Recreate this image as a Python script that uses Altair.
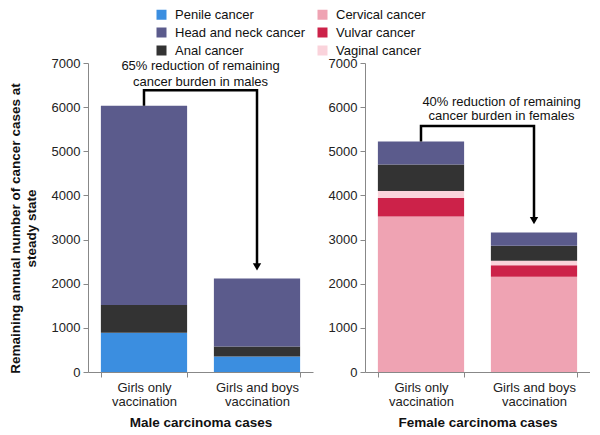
import altair as alt
import pandas as pd

groups = ["Girls only vaccination", "Girls and boys vaccination"]

male_types = ["Penile cancer", "Anal cancer", "Head and neck cancer"]
male_girls_only = [890, 630, 4510]
male_girls_boys = [350, 230, 1540]

female_types = ["Cervical cancer", "Vulvar cancer", "Vaginal cancer", "Anal cancer", "Head and neck cancer"]
female_girls_only = [3520, 420, 160, 600, 520]
female_girls_boys = [2160, 260, 100, 340, 300]

legend_order = ["Penile cancer", "Head and neck cancer", "Anal cancer",
                "Cervical cancer", "Vulvar cancer", "Vaginal cancer"]
legend_colors = ["#3b8ee0", "#5b5b8c", "#333333", "#efa3b3", "#cc2249", "#fad3db"]

panel_titles = ["Male carcinoma cases", "Female carcinoma cases"]
notes = ["65% reduction of remaining\ncancer burden in males",
         "40% reduction of remaining\ncancer burden in females"]
bracket_tops = [6380, 5570]
arrow_tips = [2270, 3320]
note_y = [6940, 6120]
note_lh = [16, 14]
note_dx = [0, 24]

W, H = 225, 309
FONT = "Liberation Sans"


def panel(types, go, gb, idx, show_title):
    rows = []
    for g, vals in zip(groups, [go, gb]):
        for k, (t, v) in enumerate(zip(types, vals)):
            rows.append({"group": g, "cancer": t, "value": v, "ord": k})
    df = pd.DataFrame(rows)
    tot_go = sum(go)
    top = bracket_tops[idx]
    tip = arrow_tips[idx]
    line_df = pd.DataFrame({
        "group": [groups[0], groups[0], groups[1], groups[1]],
        "y": [tot_go, top, top, tip + 150],
        "o": [0, 1, 2, 3],
    })
    arrow_df = pd.DataFrame({"group": [groups[1]], "y": [tip + 110]})
    note_df = pd.DataFrame({"t": [notes[idx]], "y": [note_y[idx]]})

    xscale = alt.Scale(paddingInner=0.237, paddingOuter=0.114)
    xaxis = alt.Axis(title=panel_titles[idx], labelAngle=0,
                     labelExpr="datum.label ? [replace(datum.label, ' vaccination', ''), 'vaccination'] : ''",
                     tickBand="extent", tickSize=5, labelPadding=4,
                     labelLineHeight=14, titlePadding=7)
    xenc = alt.X("group:N", sort=groups, scale=xscale, axis=xaxis)
    yscale = alt.Scale(domain=[0, 7000])
    yaxis_kw = dict(values=[0, 1000, 2000, 3000, 4000, 5000, 6000, 7000], grid=False,
                    format="d", tickSize=5, labelPadding=3)
    if show_title:
        yaxis = alt.Axis(title=["Remaining annual number of cancer cases at", "steady state"],
                         titlePadding=13, titleY=165, titleLineHeight=16, **yaxis_kw)
    else:
        yaxis = alt.Axis(title="", **yaxis_kw)

    def yenc(field, **kw):
        return alt.Y(field, scale=yscale, axis=yaxis, **kw)

    bars = alt.Chart(df).mark_bar().encode(
        x=xenc,
        y=yenc("value:Q", stack="zero"),
        color=alt.Color("cancer:N", scale=alt.Scale(domain=legend_order, range=legend_colors),
                        legend=alt.Legend(title=None, orient="none", columns=2,
                                          legendX=67, legendY=-55,
                                          symbolType="square", symbolSize=100,
                                          symbolStrokeWidth=0,
                                          labelFontSize=13, labelFont=FONT, labelColor="#111",
                                          columnPadding=10, rowPadding=4, labelOffset=7)),
        order=alt.Order("ord:Q"),
    )
    bracket = alt.Chart(line_df).mark_line(color="black", strokeWidth=2.5, strokeJoin="miter").encode(
        x=xenc,
        y=yenc("y:Q"),
        order="o:Q",
    )
    arrow = alt.Chart(arrow_df).mark_point(shape="triangle-down", filled=True, size=70,
                                            color="black", opacity=1).encode(
        x=xenc,
        y=yenc("y:Q"),
    )
    note = alt.Chart(note_df).mark_text(lineBreak="\n", fontSize=13, font=FONT, color="#111",
                                        lineHeight=note_lh[idx], dx=note_dx[idx]).encode(
        x=alt.value(W / 2),
        y=yenc("y:Q"),
        text="t:N",
    )
    return alt.layer(bars, bracket, arrow, note).properties(width=W, height=H)


left = panel(male_types, male_girls_only, male_girls_boys, 0, True)
right = panel(female_types, female_girls_only, female_girls_boys, 1, False)

chart = alt.hconcat(left, right, spacing=15).properties(
    padding={"left": 0, "top": 0, "right": 0, "bottom": 0}
).configure_view(stroke=None).configure_axis(
    labelFont=FONT, labelFontSize=13, labelColor="#222",
    titleFont=FONT, titleFontSize=13.5, titleFontWeight="bold", titleColor="#111",
    domainColor="#888", tickColor="#888",
)

chart.save("out.html", embed_options={"renderer": "svg", "actions": False})
